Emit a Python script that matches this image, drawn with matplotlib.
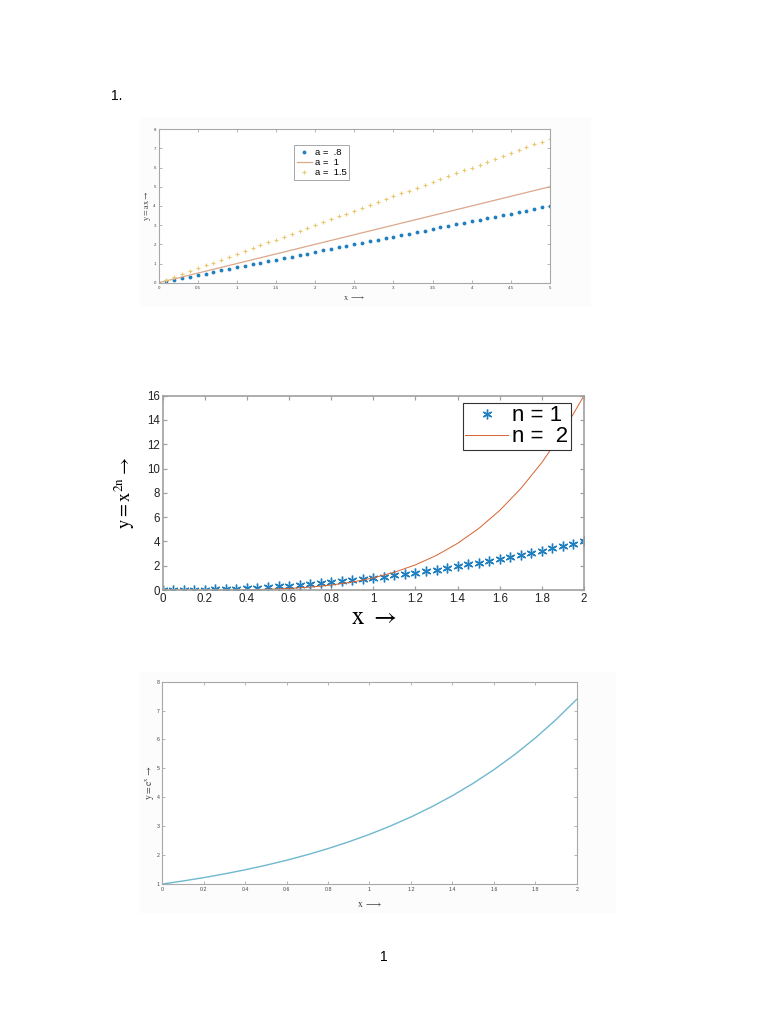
import matplotlib
matplotlib.use("Agg")
import matplotlib.pyplot as plt
from matplotlib.patches import Rectangle

plt.rcParams['font.family'] = ['Liberation Sans', 'DejaVu Sans']
plt.rcParams['mathtext.fontset'] = 'stix'

# ---- data, plot 1: y = a x ----
x1 = [0.0, 0.1, 0.2, 0.3, 0.4, 0.5, 0.6, 0.7, 0.8, 0.9, 1.0, 1.1, 1.2, 1.3, 1.4, 1.5, 1.6,
      1.7, 1.8, 1.9, 2.0, 2.1, 2.2, 2.3, 2.4, 2.5, 2.6, 2.7, 2.8, 2.9, 3.0, 3.1, 3.2, 3.3,
      3.4, 3.5, 3.6, 3.7, 3.8, 3.9, 4.0, 4.1, 4.2, 4.3, 4.4, 4.5, 4.6, 4.7, 4.8, 4.9, 5.0]
y_a08 = [0.00, 0.08, 0.16, 0.24, 0.32, 0.40, 0.48, 0.56, 0.64, 0.72, 0.80, 0.88, 0.96, 1.04,
         1.12, 1.20, 1.28, 1.36, 1.44, 1.52, 1.60, 1.68, 1.76, 1.84, 1.92, 2.00, 2.08, 2.16,
         2.24, 2.32, 2.40, 2.48, 2.56, 2.64, 2.72, 2.80, 2.88, 2.96, 3.04, 3.12, 3.20, 3.28,
         3.36, 3.44, 3.52, 3.60, 3.68, 3.76, 3.84, 3.92, 4.00]
x_a1 = [0.0, 5.0]
y_a1 = [0.0, 5.0]
y_a15 = [0.00, 0.15, 0.30, 0.45, 0.60, 0.75, 0.90, 1.05, 1.20, 1.35, 1.50, 1.65, 1.80, 1.95,
         2.10, 2.25, 2.40, 2.55, 2.70, 2.85, 3.00, 3.15, 3.30, 3.45, 3.60, 3.75, 3.90, 4.05,
         4.20, 4.35, 4.50, 4.65, 4.80, 4.95, 5.10, 5.25, 5.40, 5.55, 5.70, 5.85, 6.00, 6.15,
         6.30, 6.45, 6.60, 6.75, 6.90, 7.05, 7.20, 7.35, 7.50]
labels1 = ['a =  .8', 'a =  1', 'a =  1.5']

# ---- data, plot 2: y = x^(2n) ----
x2_star = [0.0, 0.05, 0.1, 0.15, 0.2, 0.25, 0.3, 0.35, 0.4, 0.45, 0.5, 0.55, 0.6, 0.65, 0.7,
           0.75, 0.8, 0.85, 0.9, 0.95, 1.0, 1.05, 1.1, 1.15, 1.2, 1.25, 1.3, 1.35, 1.4, 1.45,
           1.5, 1.55, 1.6, 1.65, 1.7, 1.75, 1.8, 1.85, 1.9, 1.95, 2.0]
y_n1 = [0.0, 0.0025, 0.01, 0.0225, 0.04, 0.0625, 0.09, 0.1225, 0.16, 0.2025, 0.25, 0.3025,
        0.36, 0.4225, 0.49, 0.5625, 0.64, 0.7225, 0.81, 0.9025, 1.0, 1.1025, 1.21, 1.3225,
        1.44, 1.5625, 1.69, 1.8225, 1.96, 2.1025, 2.25, 2.4025, 2.56, 2.7225, 2.89, 3.0625,
        3.24, 3.4225, 3.61, 3.8025, 4.0]
x2_line = [0.0, 0.1, 0.2, 0.3, 0.4, 0.5, 0.6, 0.7, 0.8, 0.9, 1.0, 1.1, 1.2, 1.3, 1.4, 1.5,
           1.6, 1.7, 1.8, 1.9, 2.0]
y_n2 = [0.0, 0.0001, 0.0016, 0.0081, 0.0256, 0.0625, 0.1296, 0.2401, 0.4096, 0.6561, 1.0,
        1.4641, 2.0736, 2.8561, 3.8416, 5.0625, 6.5536, 8.3521, 10.4976, 13.0321, 16.0]
labels2 = ['n = 1', 'n =  2']

# ---- data, plot 3: y = e^x ----
x3 = [0.0, 0.1, 0.2, 0.3, 0.4, 0.5, 0.6, 0.7, 0.8, 0.9, 1.0, 1.1, 1.2, 1.3, 1.4, 1.5,
      1.6, 1.7, 1.8, 1.9, 2.0]
y_exp = [1.0, 1.105, 1.221, 1.350, 1.492, 1.649, 1.822, 2.014, 2.226, 2.460, 2.718, 3.004,
         3.320, 3.669, 4.055, 4.482, 4.953, 5.474, 6.050, 6.686, 7.389]

blue = '#1f7fbf'
red = '#d9622e'
yellow = '#e8c870'
asterisk = (6, 2, 0)

fig = plt.figure(figsize=(7.68, 10.24), dpi=100)

# very faint gray figure backgrounds behind plots 1 and 3
fig.patches.append(Rectangle((140/768, 1-305/1024), 450/768, 187/1024,
                             transform=fig.transFigure, color='#fcfcfc', zorder=-10))
fig.patches.append(Rectangle((140/768, 1-912/1024), 475/768, 240/1024,
                             transform=fig.transFigure, color='#fcfcfc', zorder=-10))

fig.text(117/768, 1-96/1024, '1.', fontsize=10, ha='center', va='center')
fig.text(384/768, 1-957/1024, '1', fontsize=10, ha='center', va='center')


def style(ax, spine_col, tick_size, tick_len):
    ax.set_zorder(1)
    for s in ax.spines.values():
        s.set_color(spine_col)
    ax.tick_params(direction='in', top=True, right=True, length=tick_len,
                   width=0.6, colors=spine_col, labelcolor='#444444',
                   labelsize=tick_size, pad=2)


# plot 1
ax1 = fig.add_axes([0.2066, 0.7239, 0.5095, 0.150])
ax1.plot(x1, y_a08, '.', color=blue, markersize=3.5, label=labels1[0])
ax1.plot(x_a1, y_a1, '-', color='#dba88a', linewidth=0.9, label=labels1[1])
ax1.plot(x1, y_a15, '+', color=yellow, markersize=3, markeredgewidth=0.8, label=labels1[2])
ax1.set_xlim(0, 5)
ax1.set_ylim(0, 8)
ax1.set_xticks([0, 0.5, 1, 1.5, 2, 2.5, 3, 3.5, 4, 4.5, 5])
ax1.set_xticklabels(['0', '0.5', '1', '1.5', '2', '2.5', '3', '3.5', '4', '4.5', '5'])
ax1.set_yticks(range(0, 9))
style(ax1, '#a8a8a8', 3.2, 2)
ax1.set_xlabel(r'$\mathrm{x}\ \longrightarrow$', fontsize=6, labelpad=3, color='#444444')
ax1.set_ylabel(r'$\mathrm{y = ax} \rightarrow$', fontsize=6, labelpad=0, color='#444444')
leg1 = ax1.legend(loc='upper left', bbox_to_anchor=(0.346, 0.896), fontsize=6.8,
                  frameon=True, fancybox=False, edgecolor='#999999', borderpad=0.3,
                  labelspacing=0.1, handlelength=1.6, handletextpad=0.3, framealpha=1,
                  borderaxespad=0)
leg1.get_frame().set_linewidth(0.6)

# plot 2
ax2 = fig.add_axes([0.2118, 0.4238, 0.5486, 0.1898])
ax2.plot(x2_star, y_n1, linestyle='none', marker=asterisk, color=blue, markersize=7,
         markeredgewidth=1.0, label=labels2[0])
ax2.plot(x2_line, y_n2, '-', color=red, linewidth=0.7, label=labels2[1])
ax2.set_xlim(0, 2)
ax2.set_ylim(0, 16)
ax2.set_xticks([0, 0.2, 0.4, 0.6, 0.8, 1, 1.2, 1.4, 1.6, 1.8, 2])
ax2.set_xticklabels(['0', '0.2', '0.4', '0.6', '0.8', '1', '1.2', '1.4', '1.6', '1.8', '2'])
ax2.set_yticks(range(0, 17, 2))
style(ax2, '#a0a0a0', 8.3, 3)
ax2.tick_params(labelcolor='#222222', width=0.9)
for s in ax2.spines.values():
    s.set_linewidth(1.2)
ax2.set_xlabel(r'$\mathrm{x}\ \rightarrow$', fontsize=18, labelpad=0)
ax2.set_ylabel(r'$\mathrm{y = x^{2n}} \rightarrow$', fontsize=13.5, labelpad=7)
leg2 = ax2.legend(loc='upper right', bbox_to_anchor=(0.968, 0.962), fontsize=16,
                  frameon=True, fancybox=False, edgecolor='#333333', borderpad=0.1,
                  labelspacing=0.0, handlelength=1.9, handletextpad=0.2, borderaxespad=0,
                  framealpha=1)
leg2.get_frame().set_linewidth(0.8)

# plot 3
ax3 = fig.add_axes([0.2113, 0.1367, 0.5396, 0.1976])
ax3.plot(x3, y_exp, '-', color='#6fb8cf', linewidth=1.0)
ax3.set_xlim(0, 2)
ax3.set_ylim(1, 8)
ax3.set_xticks([0, 0.2, 0.4, 0.6, 0.8, 1, 1.2, 1.4, 1.6, 1.8, 2])
ax3.set_xticklabels(['0', '0.2', '0.4', '0.6', '0.8', '1', '1.2', '1.4', '1.6', '1.8', '2'])
ax3.set_yticks(range(1, 9))
style(ax3, '#a8a8a8', 3.8, 2)
ax3.set_xlabel(r'$\mathrm{x}\ \longrightarrow$', fontsize=7, labelpad=5, color='#444444')
ax3.set_ylabel(r'$\mathrm{y = e^{x}} \rightarrow$', fontsize=7, labelpad=0, color='#444444')

fig.savefig('out.png', dpi=100, facecolor='white')
